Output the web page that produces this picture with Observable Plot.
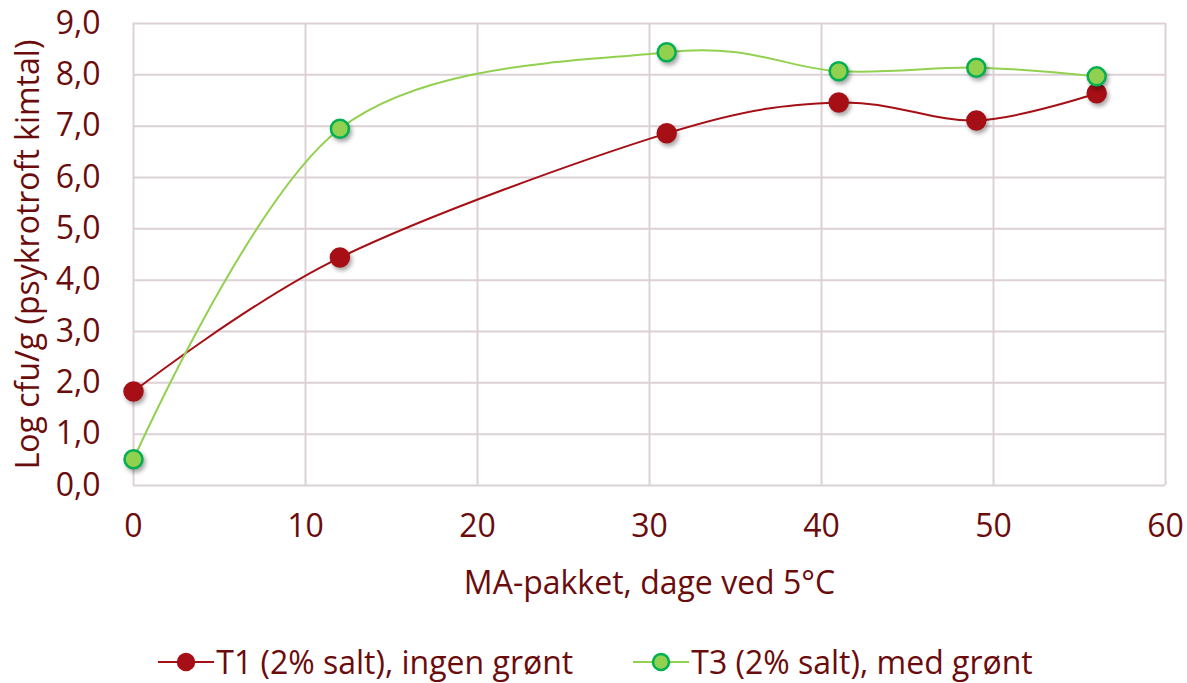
<!DOCTYPE html>
<html>
<head>
<meta charset="utf-8">
<script src="https://cdn.jsdelivr.net/npm/d3@7"></script>
<script src="https://cdn.jsdelivr.net/npm/@observablehq/plot@0.6"></script>
<style>
  html, body { margin: 0; padding: 0; background: #fff; }
  body { width: 1187px; height: 683px; overflow: hidden; font-family: "Open Sans", sans-serif; }
  #chart svg { display: block; }
  .dots circle { filter: drop-shadow(2px 3px 2px rgba(0,0,0,0.35)); }
  #legend { display: flex; justify-content: center; align-items: center; height: 70px; margin-top: 17px; color: #6b0c0c; font-size: 32px; line-height: 1.1; gap: 60px; padding-left: 4px; box-sizing: border-box; }
  .item { display: flex; align-items: center; }
  .item svg { margin-right: 2px; }
</style>
</head>
<body>
<div id="chart"></div>
<div id="legend"></div>
<script>
const days = [0, 12, 31, 41, 49, 56];
const t1 = [1.83, 4.44, 6.86, 7.46, 7.11, 7.64];
const t3 = [0.51, 6.95, 8.44, 8.07, 8.14, 7.97];
const seriesNames = ["T1 (2% salt), ingen grønt", "T3 (2% salt), med grønt"];
const xTicks = [0, 10, 20, 30, 40, 50, 60];
const yTicks = [0, 1, 2, 3, 4, 5, 6, 7, 8, 9];
const xLabel = "MA-pakket, dage ved 5°C";
const yLabel = "Log cfu/g (psykrotroft kimtal)";

const lineColors = ["#a50f15", "#92d050"];
const dotFill = ["#a50f15", "#92d050"];
const dotStroke = ["#a50f15", "#00b050"];
const textColor = "#6b0c0c";
const gridColor = "#dcd1d5";

const rows = [];
[t1, t3].forEach((vals, s) => vals.forEach((v, i) => rows.push({day: days[i], value: v, series: seriesNames[s]})));

const fmt = d => d3.format(".1f")(d).replace(".", ",");

const plot = Plot.plot({
  width: 1187,
  height: 610,
  marginLeft: 133,
  marginRight: 22,
  marginTop: 23,
  marginBottom: 125,
  style: { fontFamily: "Open Sans, sans-serif", fontSize: "32px", color: textColor, background: "#fff" },
  x: { domain: [0, 60] },
  y: { domain: [0, 9] },
  marks: [
    Plot.ruleX(xTicks, { stroke: gridColor, strokeWidth: 2, strokeOpacity: 1 }),
    Plot.ruleY(yTicks, { stroke: gridColor, strokeWidth: 2, strokeOpacity: 1 }),
    Plot.axisX(xTicks, { tickSize: 0, tickPadding: 29, fontSize: 32, label: xLabel, labelAnchor: "center", labelOffset: 108, labelArrow: "none", fill: textColor }),
    Plot.axisY(yTicks, { tickSize: 0, tickPadding: 33, tickFormat: fmt, fontSize: 32, label: yLabel, labelAnchor: "center", labelOffset: 117, labelArrow: "none", fill: textColor }),
    Plot.line(rows, { x: "day", y: "value", z: "series", stroke: d => d.series, curve: "cardinal", tension: 0, strokeWidth: 2 }),
    Plot.dot(rows, { x: "day", y: "value", fill: d => d.series === seriesNames[0] ? dotFill[0] : dotFill[1], stroke: d => d.series === seriesNames[0] ? dotStroke[0] : dotStroke[1], strokeWidth: 2.5, r: 9, className: "dots" })
  ],
  color: { domain: seriesNames, range: lineColors }
});
document.getElementById("chart").appendChild(plot);

const legend = document.getElementById("legend");
seriesNames.forEach((name, s) => {
  const item = document.createElement("div");
  item.className = "item";
  item.innerHTML = `<svg width="56" height="24"><line x1="0" x2="56" y1="12" y2="12" stroke="${lineColors[s]}" stroke-width="2"/><circle cx="28" cy="12" r="8" fill="${dotFill[s]}" stroke="${dotStroke[s]}" stroke-width="2.5"/></svg><span>${name}</span>`;
  legend.appendChild(item);
});
</script>
</body>
</html>
